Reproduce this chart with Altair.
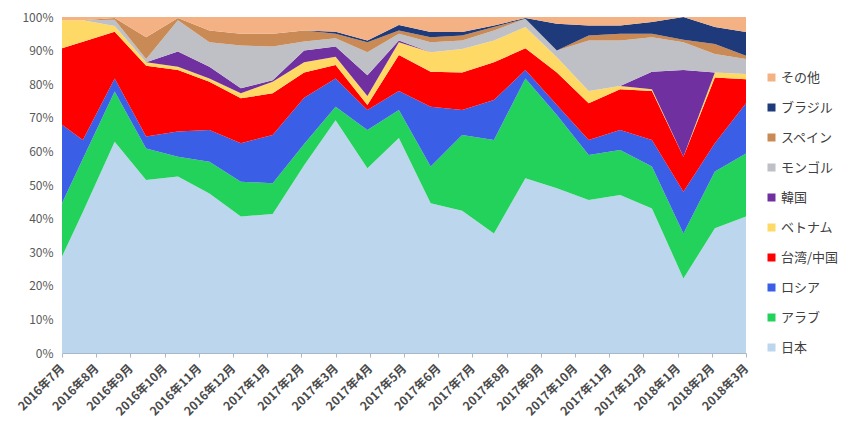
import altair as alt
import pandas as pd

# Month labels on the category axis
months = ["2016年7月", "2016年8月", "2016年9月", "2016年10月", "2016年11月", "2016年12月",
          "2017年1月", "2017年2月", "2017年3月", "2017年4月", "2017年5月", "2017年6月",
          "2017年7月", "2017年8月", "2017年9月", "2017年10月", "2017年11月", "2017年12月",
          "2018年1月", "2018年2月", "2018年3月"]

# x position of each data point, in month units (0 = 2016年7月)
pos = [0, 0.61, 1.54, 2.46, 3.39, 4.31, 5.23, 6.16, 7.08, 8.0, 8.93, 9.85,
       10.78, 11.70, 12.63, 13.55, 14.47, 15.40, 16.32, 17.25, 18.17, 19.09, 20.0]

series = ["日本", "アラブ", "ロシア", "台湾/中国", "ベトナム", "韓国", "モンゴル", "スペイン", "ブラジル", "その他"]
colors = ["#bcd6ee", "#22d25a", "#3b5ee6", "#ff0000", "#ffd966", "#7030a0", "#bfbfc6", "#c98a55", "#1f3a7a", "#f4b183"]

# cumulative upper edge (%) of each band
nihon   = [28.7, 42.0, 62.9, 51.5, 52.5, 47.5, 40.6, 41.4, 55.9, 69.3, 55.0, 64.0, 44.6, 42.3, 35.6, 52.0, 49.0, 45.5, 47.0, 43.0, 22.2, 37.1, 40.6]
arab    = [44.6, 57.8, 77.8, 60.9, 58.4, 56.9, 51.0, 50.5, 62.2, 73.3, 66.4, 72.3, 55.5, 64.9, 63.4, 81.7, 70.8, 58.9, 60.4, 55.5, 35.6, 54.0, 59.4]
russia  = [67.9, 63.4, 81.7, 64.4, 65.9, 66.4, 62.4, 64.9, 76.0, 81.7, 72.3, 78.0, 73.3, 72.3, 75.3, 84.2, 73.8, 63.4, 66.4, 63.4, 48.0, 62.4, 74.3]
taiwan  = [90.7, 92.6, 95.6, 85.5, 84.2, 80.7, 75.8, 77.3, 83.5, 85.7, 73.8, 88.7, 83.7, 83.5, 86.5, 90.7, 83.5, 74.3, 78.5, 78.0, 58.4, 82.0, 81.5]
vietnam = [99.0, 99.0, 97.3, 86.5, 85.2, 81.7, 77.3, 80.7, 86.5, 88.2, 76.5, 92.5, 89.5, 90.5, 93.0, 97.0, 88.0, 78.0, 79.5, 78.5, 58.4, 83.5, 83.0]
korea   = [99.0, 99.0, 97.3, 86.5, 89.7, 85.2, 78.8, 81.2, 90.0, 91.2, 82.7, 93.0, 89.5, 90.5, 93.0, 97.0, 88.0, 78.0, 79.5, 83.7, 84.2, 83.5, 83.0]
mongol  = [99.0, 99.0, 99.2, 87.5, 99.0, 92.5, 91.5, 91.2, 92.7, 93.7, 89.5, 95.0, 92.5, 93.0, 96.0, 99.5, 90.0, 93.0, 93.0, 94.0, 92.5, 89.0, 87.5]
spain   = [99.0, 99.0, 99.7, 94.0, 99.7, 96.0, 95.0, 95.0, 96.0, 95.0, 92.5, 96.0, 94.0, 94.5, 97.0, 99.5, 90.0, 94.5, 95.0, 95.0, 93.2, 92.0, 88.5]
brazil  = [99.0, 99.0, 99.7, 94.0, 99.7, 96.0, 95.0, 95.0, 96.0, 95.6, 93.0, 97.6, 95.5, 95.5, 97.5, 99.7, 98.0, 97.5, 97.5, 98.5, 100.0, 97.0, 95.5]
other   = [100.0] * 23

cum = [nihon, arab, russia, taiwan, vietnam, korea, mongol, spain, brazil, other]

rows = []
for i, p in enumerate(pos):
    prev = 0.0
    for k, s in enumerate(series):
        top = cum[k][i]
        rows.append({"x": p, "series": s, "ord": k, "share": max(top - prev, 0.0)})
        prev = top
df = pd.DataFrame(rows)

label_expr = "[" + ",".join("'" + m + "'" for m in months) + "][round(datum.value)]"
FONT = "Noto Sans CJK JP"

chart = alt.Chart(df).mark_area(interpolate="linear", strokeWidth=0).encode(
    x=alt.X("x:Q",
            scale=alt.Scale(domain=[0, 20], nice=False, zero=False),
            axis=alt.Axis(values=list(range(21)), labelExpr=label_expr, title=None,
                          labelAngle=-45, labelAlign="right", labelBaseline="middle",
                          labelFontSize=12, labelFontWeight="bold", labelColor="#4a4a4a",
                          labelFont=FONT, labelPadding=9, tickSize=4, tickColor="#a8b8c8",
                          domainColor="#a8b8c8", grid=False, labelOverlap=False)),
    y=alt.Y("share:Q", stack="normalize",
            scale=alt.Scale(domain=[0, 1], nice=False),
            axis=alt.Axis(values=[i / 10 for i in range(11)], format=".0%", title=None,
                          labelFontSize=12, labelColor="#595959", labelFont=FONT,
                          ticks=False, domain=False, grid=False, labelPadding=9)),
    color=alt.Color("series:N",
                    scale=alt.Scale(domain=series[::-1], range=colors[::-1]),
                    legend=alt.Legend(title=None, orient="none", legendX=703, legendY=54,
                                      symbolType="square", symbolSize=64, symbolStrokeWidth=0,
                                      labelFontSize=13, labelColor="#404040", labelFont=FONT,
                                      rowPadding=16, labelOffset=3)),
    order=alt.Order("ord:Q", sort="ascending"),
).properties(
    width=684, height=336,
    autosize=alt.AutoSizeParams(type="none"),
    padding={"left": 54, "top": 9, "right": 94, "bottom": 65},
    background="white",
).configure_view(stroke=None)

chart.save("out.html", embed_options={"renderer": "svg", "actions": False})
